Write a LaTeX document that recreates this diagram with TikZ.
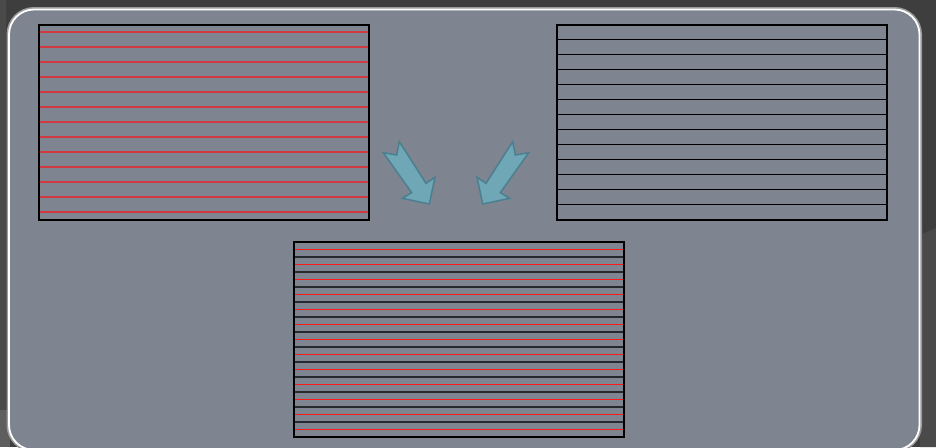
\documentclass[tikz,border=0pt]{standalone}
\usetikzlibrary{calc}
\definecolor{outerbg}{HTML}{3E3E3E}
\definecolor{outerbgb}{HTML}{4A4A4A}
\definecolor{outerbgc}{HTML}{5E5E5E}
\definecolor{panel}{HTML}{7F8590}
\definecolor{glow}{HTML}{9A9A9A}
\definecolor{softred}{HTML}{D0393F}
\definecolor{brightred}{HTML}{FF1A1A}
\definecolor{darkline}{HTML}{26292D}
\definecolor{arrowfill}{HTML}{70A7B7}
\definecolor{arrowedge}{HTML}{4A7F8F}
\tikzset{
  linebox/.style={draw=none, minimum width=330pt, minimum height=195pt, anchor=north west, inner sep=0pt, outer sep=0pt},
  boxframe/.style={draw=black, line width=2pt},
  redsoft/.style={draw=softred, line width=1.6pt},
  redbright/.style={draw=brightred, line width=1.3pt},
  blackline/.style={draw=black, line width=1.25pt},
  darkgray/.style={draw=darkline, line width=2pt},
  blockarrow/.style={fill=arrowfill, draw=arrowedge, line width=1.5pt, line join=miter}
}
\begin{document}
\begin{tikzpicture}[x=1pt,y=-1pt]
\useasboundingbox (0,0) rectangle (936,447);
% outside background
\fill[outerbg] (0,0) rectangle (936,447);
\fill[outerbgb] (920,235) -- (936,228) -- (936,447) -- (920,447) -- cycle;
\fill[outerbgb] (0,0) rectangle (6,447);
\fill[outerbgc] (0,410) rectangle (10,447);
% panel
\draw[glow, line width=5pt, rounded corners=25pt] (9,9.5) rectangle (919.5,450);
\fill[panel, rounded corners=25pt] (9,9.5) rectangle (919.5,450);
\draw[white, line width=1.8pt, rounded corners=25pt] (9,9.5) rectangle (919.5,450);

% box nodes
\node[linebox] (A) at (38.5,24.5) {};
\node[linebox] (B) at (556.5,24.5) {};
\node[linebox] (C) at (293.5,241.5) {};

% box A: red lines
\foreach \k in {0,...,12}{
  \pgfmathsetmacro{\off}{7.3+15*\k}
  \draw[redsoft] ([yshift=-\off pt]A.north west) -- ([yshift=-\off pt]A.north east);
}
% box B: black lines
\foreach \k in {0,...,11}{
  \pgfmathsetmacro{\off}{15+15*\k}
  \draw[blackline] ([yshift=-\off pt]B.north west) -- ([yshift=-\off pt]B.north east);
}
% box C: interleaved
\foreach \k in {0,...,11}{
  \pgfmathsetmacro{\off}{15+15*\k}
  \draw[darkgray] ([yshift=-\off pt]C.north west) -- ([yshift=-\off pt]C.north east);
}
\foreach \k in {0,...,12}{
  \pgfmathsetmacro{\off}{8+15*\k}
  \draw[redbright] ([yshift=-\off pt]C.north west) -- ([yshift=-\off pt]C.north east);
}
\draw[boxframe] (A.north west) rectangle (A.south east);
\draw[boxframe] (B.north west) rectangle (B.south east);
\draw[boxframe] (C.north west) rectangle (C.south east);

% block arrows
\draw[blockarrow] (383.3,152.7) -- (396.7,155) -- (399.3,141.7) -- (426,183.3) -- (435,177.3) -- (429.3,204) -- (402.3,198.3) -- (411.7,192.7) -- cycle;
\draw[blockarrow] (528.7,152.7) -- (515.3,155) -- (512.7,141.7) -- (486,183.3) -- (477,177.3) -- (482.7,204) -- (509.7,198.3) -- (500.3,192.7) -- cycle;
\end{tikzpicture}
\end{document}
